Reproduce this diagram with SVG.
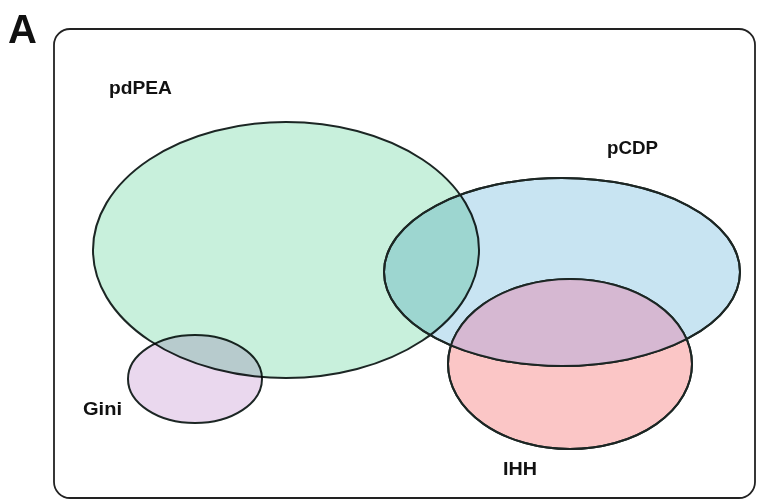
<svg xmlns="http://www.w3.org/2000/svg" width="757" height="501" viewBox="0 0 757 501">
  <style>
    .set { stroke: #1c2624; stroke-width: 2; mix-blend-mode: multiply; }
    .lbl { font-family: "Liberation Sans", Arial, sans-serif; font-weight: bold; font-size: 18px; fill: #111; }
  </style>
  <defs>
    <clipPath id="clipIHH"><ellipse cx="570" cy="364" rx="122" ry="85"/></clipPath>
  </defs>
  <rect x="0" y="0" width="757" height="501" fill="#ffffff"/>
  <text x="8" y="43" font-family="Liberation Sans, Arial, sans-serif" font-weight="bold" font-size="40" fill="#111">A</text>
  <rect id="frame" x="54" y="29" width="701" height="469" rx="16" ry="16" fill="none" stroke="#222" stroke-width="1.8"/>
  <g id="venn" style="isolation:isolate">
    <g id="pdPEA"><ellipse class="set" cx="286" cy="250" rx="193" ry="128" fill="#c8f0dc"/></g>
    <g id="pCDP"><ellipse class="set" cx="562" cy="272" rx="178" ry="94" fill="#c8e4f2"/></g>
    <g id="IHH"><ellipse class="set" cx="570" cy="364" rx="122" ry="85" fill="#fbc6c6"/></g>
    <g id="Gini"><ellipse class="set" cx="195" cy="379" rx="67" ry="44" fill="#ead8ee"/></g>
  </g>
  <g id="overlap">
    <ellipse cx="562" cy="272" rx="178" ry="94" fill="#d6b8d2" clip-path="url(#clipIHH)"/>
    <ellipse cx="562" cy="272" rx="178" ry="94" fill="none" stroke="#1c2624" stroke-width="2"/>
    <ellipse cx="570" cy="364" rx="122" ry="85" fill="none" stroke="#1c2624" stroke-width="2"/>
  </g>
  <g id="labels">
    <text class="lbl" x="109" y="94" textLength="63" lengthAdjust="spacingAndGlyphs">pdPEA</text>
    <text class="lbl" x="607" y="154" textLength="51" lengthAdjust="spacingAndGlyphs">pCDP</text>
    <text class="lbl" x="83" y="415" textLength="39" lengthAdjust="spacingAndGlyphs">Gini</text>
    <text class="lbl" x="503" y="475" textLength="34" lengthAdjust="spacingAndGlyphs">IHH</text>
  </g>
</svg>
